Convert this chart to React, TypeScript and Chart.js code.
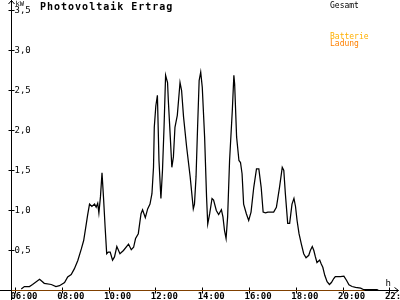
import React, { useEffect, useRef } from "react";
import { Chart, registerables } from "chart.js";

Chart.register(...registerables);

// ---- data ----
const chartTitle = "Photovoltaik Ertrag";
const yUnit = "kW";
const xUnit = "h";
const legendGesamt = "Gesamt";
const legendBatterie = "Batterie";
const legendLadung = "Ladung";

const gesamtTimes = [
  "06:15", "06:23", "06:36", "06:44", "07:02", "07:14", "07:32", "07:44", "07:53", "08:06",
  "08:14", "08:23", "08:31", "08:40", "08:49", "08:55", "09:01", "09:05", "09:10", "09:16",
  "09:23", "09:27", "09:31", "09:34", "09:38", "09:42", "09:46", "09:50", "09:54", "09:58",
  "10:03", "10:09", "10:14", "10:20", "10:28", "10:37", "10:50", "10:57", "11:03", "11:08",
  "11:15", "11:22", "11:26", "11:33", "11:39", "11:45", "11:50", "11:54", "11:56", "12:00",
  "12:04", "12:08", "12:13", "12:17", "12:21", "12:25", "12:30", "12:32", "12:37", "12:41",
  "12:45", "12:49", "12:55", "13:02", "13:06", "13:11", "13:19", "13:28", "13:36", "13:39",
  "13:43", "13:47", "13:51", "13:55", "13:59", "14:05", "14:10", "14:13", "14:18", "14:24",
  "14:28", "14:35", "14:41", "14:48", "14:52", "14:56", "15:00", "15:04", "15:09", "15:16",
  "15:20", "15:22", "15:27", "15:33", "15:37", "15:41", "15:45", "15:52", "15:58", "16:04",
  "16:11", "16:18", "16:24", "16:30", "16:35", "16:41", "16:47", "16:54", "17:02", "17:09",
  "17:17", "17:24", "17:28", "17:32", "17:38", "17:43", "17:49", "17:54", "17:58", "18:02",
  "18:07", "18:13", "18:19", "18:25", "18:32", "18:36", "18:41", "18:45", "18:49", "18:53",
  "19:00", "19:04", "19:08", "19:13", "19:19", "19:25", "19:30", "19:36", "19:40", "19:53",
  "20:02", "20:09", "20:15", "20:23", "20:32", "20:45", "20:53", "21:27", "21:31",
];
const gesamtValues = [
  0.02, 0.05, 0.05, 0.075, 0.14, 0.09, 0.075, 0.05, 0.06, 0.10,
  0.17, 0.20, 0.27, 0.375, 0.52, 0.625, 0.81, 0.94, 1.08, 1.05,
  1.08, 1.04, 1.09, 0.97, 1.17, 1.47, 1.15, 0.79, 0.46, 0.48,
  0.48, 0.38, 0.42, 0.55, 0.46, 0.50, 0.58, 0.51, 0.54, 0.65,
  0.71, 0.96, 1.01, 0.91, 1.02, 1.08, 1.21, 1.54, 2.04, 2.31,
  2.44, 1.625, 1.15, 1.50, 2.04, 2.69, 2.60, 2.375, 1.92, 1.54,
  1.67, 2.04, 2.19, 2.60, 2.50, 2.17, 1.79, 1.42, 1.02, 1.08,
  1.42, 2.04, 2.625, 2.73, 2.54, 1.92, 1.17, 0.83, 0.96, 1.15,
  1.13, 1.00, 0.95, 1.01, 0.92, 0.75, 0.65, 0.92, 1.625, 2.25,
  2.69, 2.58, 1.92, 1.625, 1.60, 1.46, 1.08, 0.96, 0.875, 0.98,
  1.29, 1.52, 1.52, 1.29, 0.98, 0.97, 0.98, 0.98, 0.98, 1.04,
  1.29, 1.54, 1.50, 1.21, 0.84, 0.84, 1.08, 1.15, 1.05, 0.875,
  0.71, 0.58, 0.46, 0.41, 0.44, 0.50, 0.55, 0.50, 0.42, 0.35,
  0.38, 0.33, 0.29, 0.19, 0.11, 0.075, 0.10, 0.15, 0.175, 0.175,
  0.18, 0.125, 0.07, 0.05, 0.04, 0.03, 0.01, 0.01, 0,
];

const ladungTimes = ["05:50", "20:55"];
const ladungValues = [0, 0];

const xMinTime = "05:50";
const xMaxTime = "22:22";
const xTickLabels = ["06:00", "08:00", "10:00", "12:00", "14:00", "16:00", "18:00", "20:00", "22:00"];
const yTickValues = [0.5, 1.0, 1.5, 2.0, 2.5, 3.0, 3.5];
const yMax = 3.5;

const COLOR_GESAMT = "#000000";
const COLOR_BATTERIE = "#ffb000";
const COLOR_LADUNG = "#ff8000";

function toHours(s: string): number {
  const [h, m] = s.split(":").map(Number);
  return h + m / 60;
}

function fmtY(v: number): string {
  return v.toFixed(1).replace(".", ",");
}

const decorPlugin = {
  id: "decor",
  beforeDatasetsDraw(chart: any) {
    const ctx = chart.ctx as CanvasRenderingContext2D;
    const { left, right, bottom } = chart.chartArea;
    const xs = chart.scales.x;
    const ys = chart.scales.y;
    ctx.save();
    ctx.strokeStyle = "#000";
    ctx.lineWidth = 1;
    ctx.beginPath();
    // y axis
    ctx.moveTo(left, 0);
    ctx.lineTo(left, 300);
    // x axis
    ctx.moveTo(0, bottom);
    ctx.lineTo(right, bottom);
    // arrows
    ctx.moveTo(left - 3, 4);
    ctx.lineTo(left, 0.5);
    ctx.lineTo(left + 3, 4);
    ctx.moveTo(right - 4, bottom - 3);
    ctx.lineTo(right, bottom);
    ctx.lineTo(right - 4, bottom + 3);
    // y ticks
    yTickValues.forEach((v) => {
      const y = Math.round(ys.getPixelForValue(v) - 0.5) + 0.5;
      ctx.moveTo(left - 3, y);
      ctx.lineTo(left + 3, y);
    });
    // x ticks
    xTickLabels.forEach((t) => {
      const x = Math.round(xs.getPixelForValue(toHours(t)) - 0.5) + 0.5;
      ctx.moveTo(x, bottom - 3);
      ctx.lineTo(x, bottom + 3);
    });
    ctx.stroke();
    ctx.restore();
  },
  afterDraw(chart: any) {
    const ctx = chart.ctx as CanvasRenderingContext2D;
    const { left, right, bottom } = chart.chartArea;
    const xs = chart.scales.x;
    const ys = chart.scales.y;
    ctx.save();
    ctx.fillStyle = "#000";
    // y labels (inside, right of axis)
    ctx.font = "9px 'DejaVu Sans Mono'";
    ctx.textAlign = "left";
    ctx.textBaseline = "middle";
    yTickValues.forEach((v) => {
      const y = ys.getPixelForValue(v);
      ctx.fillText(fmtY(v), left + 3, y + 0.5);
    });
    // x labels
    ctx.font = "bold 9px 'DejaVu Sans Mono'";
    ctx.textBaseline = "alphabetic";
    xTickLabels.forEach((t) => {
      const x = xs.getPixelForValue(toHours(t));
      ctx.fillText(t, x - 5, 299);
    });
    // units
    ctx.font = "7px 'DejaVu Sans Mono'";
    ctx.fillText(yUnit, left + 4, 6);
    ctx.font = "9px 'DejaVu Sans Mono'";
    ctx.fillText(xUnit, right - 13, bottom - 5);
    // title
    ctx.font = "bold 10px 'DejaVu Sans Mono'";
    (ctx as any).letterSpacing = "1px";
    ctx.fillText(chartTitle, 40, 10);
    (ctx as any).letterSpacing = "0px";
    // legend
    ctx.font = "8px 'DejaVu Sans Mono'";
    ctx.fillStyle = COLOR_GESAMT;
    ctx.fillText(legendGesamt, 330, 7.5);
    ctx.fillStyle = COLOR_BATTERIE;
    ctx.fillText(legendBatterie, 330, 38.5);
    ctx.fillStyle = COLOR_LADUNG;
    ctx.fillText(legendLadung, 330, 46);
    ctx.restore();
  },
};

export default function App() {
  const canvasRef = useRef<HTMLCanvasElement | null>(null);

  useEffect(() => {
    document.body.style.margin = "0";
    const canvas = canvasRef.current;
    if (!canvas) return;
    const chart = new Chart(canvas, {
      type: "line",
      data: {
        datasets: [
          {
            label: legendGesamt,
            data: gesamtTimes.map((t, i) => ({ x: toHours(t), y: gesamtValues[i] })),
            borderColor: COLOR_GESAMT,
            borderWidth: 1.25,
            pointRadius: 0,
            tension: 0,
            fill: false,
            order: 0,
          },
          {
            label: legendLadung,
            data: ladungTimes.map((t, i) => ({ x: toHours(t), y: ladungValues[i] })),
            borderColor: COLOR_LADUNG,
            borderWidth: 1,
            pointRadius: 0,
            tension: 0,
            fill: false,
            order: 1,
          },
        ],
      },
      options: {
        animation: false,
        responsive: false,
        maintainAspectRatio: false,
        devicePixelRatio: 1,
        layout: { padding: { left: 11.5, right: 1.5, top: 10.5, bottom: 9.5 } },
        scales: {
          x: { type: "linear", display: false, min: toHours(xMinTime), max: toHours(xMaxTime) },
          y: { type: "linear", display: false, min: 0, max: yMax },
        },
        plugins: {
          legend: { display: false },
          tooltip: { enabled: false },
          title: { display: false },
        },
      },
      plugins: [decorPlugin],
    });
    return () => chart.destroy();
  }, []);

  return (
    <div style={{ position: "fixed", left: 0, top: 0, width: 400, height: 300, background: "#fff" }}>
      <canvas ref={canvasRef} width={400} height={300} style={{ display: "block" }} />
    </div>
  );
}
